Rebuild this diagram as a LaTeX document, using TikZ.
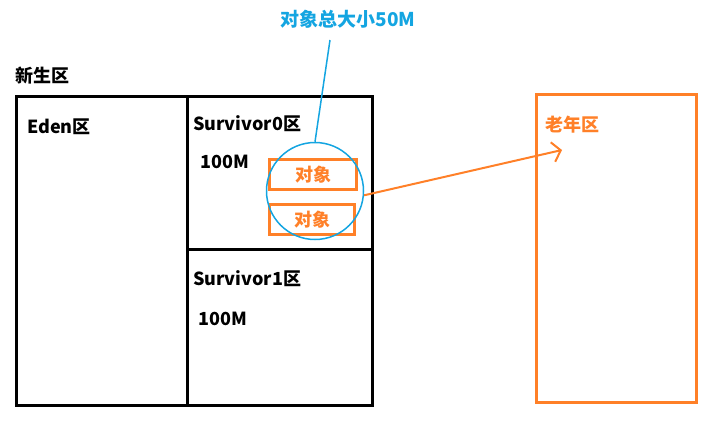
\documentclass[tikz,border=0pt]{standalone}
\usepackage{fontspec}
\setmainfont{Noto Sans CJK SC}
\usetikzlibrary{arrows.meta}
\definecolor{heaporange}{RGB}{255,128,40}
\definecolor{noteblue}{RGB}{20,165,225}

\begin{document}
\begin{tikzpicture}[x=1pt,y=-1pt,
    zone/.style={draw=black, line width=3pt, inner sep=0pt, anchor=north west},
    oldzone/.style={draw=heaporange, line width=3pt, inner sep=0pt, anchor=north west},
    objbox/.style={draw=heaporange, line width=3pt, inner sep=0pt, anchor=north west,
        text=heaporange, font=\bfseries\fontsize{18}{18}\selectfont},
    lbl/.style={anchor=west, inner sep=0pt, font=\bfseries\fontsize{18}{18}\selectfont}]

    \useasboundingbox (0,0) rectangle (727,434);

    % --- Young generation ---
    \node[zone, minimum width=171, minimum height=309] (eden) at (15,95) {};
    \node[zone, minimum width=185, minimum height=153] (surv0) at (186,95) {};
    \node[zone, minimum width=185, minimum height=156] (surv1) at (186,248) {};

    \node[lbl] (young) at (15,76) {新生区};
    \node[lbl] (edenlbl) at (27,127) {Eden区};
    \node[lbl] (s0lbl) at (193,124) {Survivor0区};
    \node[lbl] (s0size) at (200,162) {100M};
    \node[lbl] (s1lbl) at (193,279) {Survivor1区};
    \node[lbl] (s1size) at (198,319) {100M};

    % --- Objects in Survivor0 ---
    \node[objbox, minimum width=87, minimum height=30] (obj1) at (268,158) {对象};
    \node[objbox, minimum width=85, minimum height=30] (obj2) at (268,203) {对象};

    % --- Note circle ---
    \node[draw=noteblue, line width=1.5pt, circle, minimum size=97, inner sep=0pt] (circ) at (315,191) {};
    \node[text=noteblue, inner sep=0pt, font=\bfseries\fontsize{19}{19}\selectfont] (note) at (348,19) {对象总大小50M};
    \coordinate (notetip) at (330,40);
    \draw[noteblue, line width=1.5pt] (notetip) -- (circ.north);

    % --- Old generation ---
    \node[oldzone, minimum width=160, minimum height=308] (old) at (535,93) {};
    \node[lbl, text=heaporange] (oldlbl) at (545,125) {老年区};

    % --- Promotion arrow ---
    \coordinate (target) at (562,150);
    \draw[heaporange, line width=2pt, -{Straight Barb[length=8pt, width=20pt]}] (circ.-5) -- (target);

\end{tikzpicture}
\end{document}
